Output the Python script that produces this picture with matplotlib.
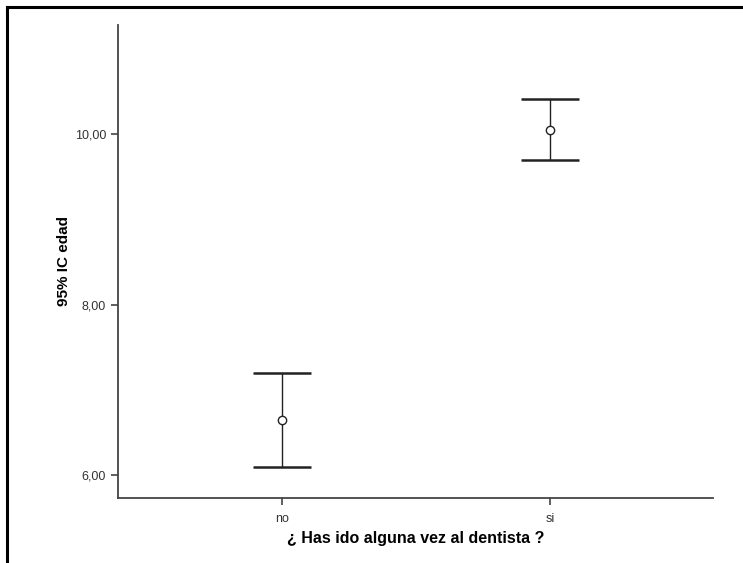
import numpy as np
import matplotlib.pyplot as plt
from matplotlib.lines import Line2D

# intervalo de confianza 95% de la edad según visita al dentista
categorias = ['no', 'si']
media = [6.65, 10.05]
ic_inf = [6.10, 9.70]
ic_sup = [7.20, 10.41]
ticks_y = [6.0, 8.0, 10.0]
etiquetas_y = ['6,00', '8,00', '10,00']

plt.rcParams['font.family'] = ['Liberation Sans Narrow', 'Liberation Sans', 'DejaVu Sans']

fig = plt.figure(figsize=(7.43, 5.63), dpi=100)
ax = fig.add_axes([0.1588, 0.1155, 0.8008, 0.8401])

x = np.arange(len(categorias))
media = np.array(media)
err = [media - np.array(ic_inf), np.array(ic_sup) - media]

ax.errorbar(x, media, yerr=err, fmt='none', ecolor='#222222',
            elinewidth=1.0, capsize=21, capthick=1.8)
ax.plot(x, media, 'o', mfc='white', mec='#222222', ms=6, mew=1.0)

ax.set_xlim(-0.612, 1.608)
ax.set_ylim(5.733, 11.278)
ax.set_xticks(x)
ax.set_xticklabels(categorias)
ax.set_yticks(ticks_y)
ax.set_yticklabels(etiquetas_y)

for s in ['top', 'right']:
    ax.spines[s].set_visible(False)
for s in ['left', 'bottom']:
    ax.spines[s].set_color('#444444')
    ax.spines[s].set_linewidth(1.3)

ax.tick_params(axis='both', colors='#444444', labelcolor='#333333',
               labelsize=9, length=5, width=1.2)
ax.tick_params(axis='x', pad=6)

ax.set_ylabel('95% IC edad', fontsize=11, fontweight='bold', labelpad=3)
ax.set_xlabel('¿ Has ido alguna vez al dentista ?', fontsize=11.5,
              fontweight='bold', labelpad=4)

# marco exterior (solo arriba e izquierda)
fig.add_artist(Line2D([0.0094, 1.0], [0.9876, 0.9876], transform=fig.transFigure,
                      color='black', lw=2.2))
fig.add_artist(Line2D([0.0094, 0.0094], [0.0, 0.9876], transform=fig.transFigure,
                      color='black', lw=2.2))

fig.savefig('out.png', dpi=100)
